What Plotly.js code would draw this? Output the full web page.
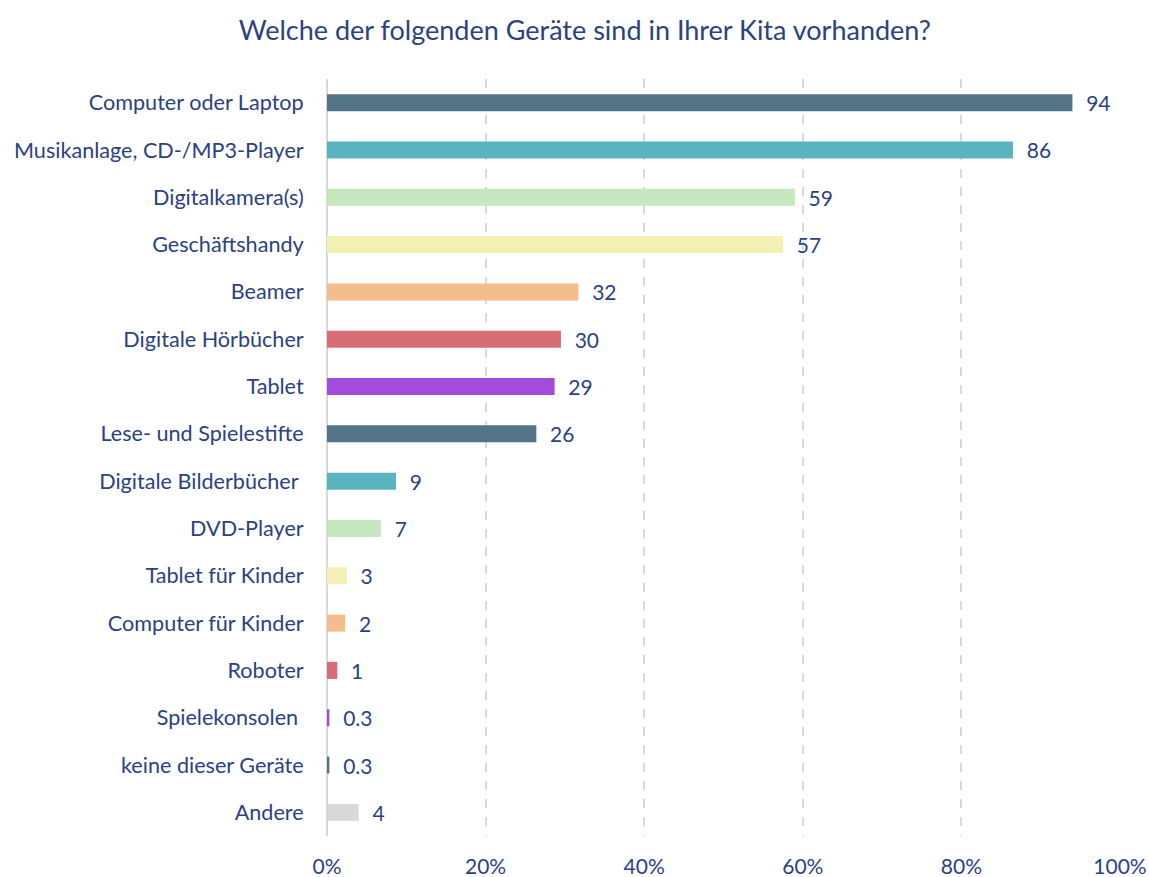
<!DOCTYPE html>
<html>
<head>
<meta charset="utf-8">
<script src="https://cdn.plot.ly/plotly-3.0.1.min.js"></script>
<style>html,body{margin:0;padding:0;background:#fff;}#chart{width:1149px;height:877px;}</style>
</head>
<body>
<div id="chart"></div>
<script>
const categories = [
  "Computer oder Laptop",
  "Musikanlage, CD-/MP3-Player",
  "Digitalkamera(s)",
  "Geschäftshandy",
  "Beamer",
  "Digitale Hörbücher",
  "Tablet",
  "Lese- und Spielestifte",
  "Digitale Bilderbücher\u00a0",
  "DVD-Player",
  "Tablet für Kinder",
  "Computer für Kinder",
  "Roboter",
  "Spielekonsolen\u00a0",
  "keine dieser Geräte",
  "Andere"
];
const values = [94, 86.5, 59, 57.5, 31.7, 29.5, 28.7, 26.4, 8.7, 6.8, 2.5, 2.3, 1.3, 0.3, 0.3, 4];
const valueLabels = ["94", "86", "59", "57", "32", "30", "29", "26", "9", "7", "3", "2", "1", "0.3", "0.3", "4"];
const xTickVals = [0, 20, 40, 60, 80, 100];
const xTickText = ["0%", "20%", "40%", "60%", "80%", "100%"];
const barColors = ["#547587", "#5AB4BF", "#C5E8BF", "#F3F0B4", "#F5BC8D", "#D76E75", "#A24BDC",
                   "#547587", "#5AB4BF", "#C5E8BF", "#F3F0B4", "#F5BC8D", "#D76E75", "#A24BDC",
                   "#547587", "#D9D9D9"];

const textColor = "#2C4280";
const font = "Lato, 'Open Sans', sans-serif";
const fs = 21.6;

const trace = {
  type: "bar",
  orientation: "h",
  y: categories,
  x: values,
  text: valueLabels.map(v => "\u00a0\u00a0" + v),
  textposition: "outside",
  constraintext: "none",
  cliponaxis: false,
  textfont: {family: font, size: 21, color: textColor},
  marker: {color: barColors},
  hoverinfo: "none"
};

const layout = {
  width: 1149,
  height: 877,
  margin: {l: 327, r: 29, t: 79, b: 41},
  paper_bgcolor: "#fff",
  plot_bgcolor: "#fff",
  bargap: 0.64,
  showlegend: false,
  font: {family: font, color: textColor, size: fs},
  title: {
    text: "Welche der folgenden Geräte sind in Ihrer Kita vorhanden?",
    font: {family: font, size: 27, color: textColor},
    x: 0.509, xanchor: "center",
    y: 1 - 31 / 877, yanchor: "middle", yref: "container"
  },
  xaxis: {
    range: [0, 100],
    tickmode: "array",
    tickvals: xTickVals,
    ticktext: xTickText,
    showgrid: true,
    gridcolor: "#D9D9D9",
    gridwidth: 2,
    griddash: "dash",
    zeroline: true,
    zerolinecolor: "#D9D9D9",
    zerolinewidth: 2,
    showline: false,
    ticks: "outside",
    ticklen: 12,
    tickcolor: "rgba(0,0,0,0)",
    tickfont: {family: font, size: 21, color: textColor},
    fixedrange: true
  },
  yaxis: {
    autorange: "reversed",
    showgrid: false,
    zeroline: false,
    showline: false,
    ticks: "outside",
    ticklen: 18,
    tickcolor: "rgba(0,0,0,0)",
    tickfont: {family: font, size: fs, color: textColor},
    fixedrange: true
  }
};

Plotly.newPlot("chart", [trace], layout, {displayModeBar: false, staticPlot: true});
</script>
</body>
</html>
